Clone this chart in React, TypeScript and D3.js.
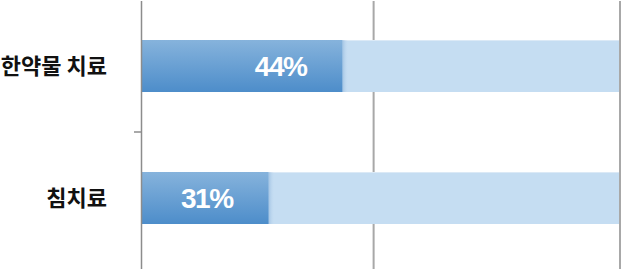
import React from "react";
import * as d3 from "d3";

const categories = ["한약물 치료", "침치료"];
const values = [44, 31];
const valueLabels = ["44%", "31%"];
const domainMin = 8.7;
const domainMax = 92.9;
const gridTicks = [49.5, 92.9];

const W = 622;
const H = 269;

export default function App() {
  const x = d3.scaleLinear().domain([domainMin, domainMax]).range([142, 620]);
  const y = d3.scaleBand<string>().domain(categories).range([0, 264]).paddingInner(0.606).paddingOuter(0.303);
  const bh = y.bandwidth();
  return (
    <svg width={W} height={H} style={{ position: "absolute", left: 0, top: 0, display: "block" }}>
      <defs>
        <linearGradient id="barGrad" x1="0" y1="0" x2="0" y2="1">
          <stop offset="0" stopColor="#86b3dc" />
          <stop offset="1" stopColor="#4d8dca" />
        </linearGradient>
        <linearGradient id="edgeShade" x1="0" y1="0" x2="1" y2="0">
          <stop offset="0" stopColor="#7fa9d4" stopOpacity="0.5" />
          <stop offset="1" stopColor="#c5ddf2" stopOpacity="0" />
        </linearGradient>
      </defs>
      {gridTicks.map((t, i) => (
        <line key={i} x1={x(t)} x2={x(t)} y1={1} y2={H} stroke="#a8a8a8" strokeWidth={2} />
      ))}
      {categories.map((c, i) => {
        const y0 = y(c)!;
        return (
          <g key={c}>
            <rect x={x(domainMin)} y={y0} width={x(domainMax) - x(domainMin) - 1} height={bh} fill="#c5ddf2" />
            <rect x={x(domainMin)} y={y0} width={x(domainMax) - x(domainMin) - 1} height={1} fill="#dbe9f6" />
            <rect x={x(values[i])} y={y0} width={6} height={bh} fill="url(#edgeShade)" />
            <rect x={x(domainMin)} y={y0} width={x(values[i]) - x(domainMin)} height={bh} fill="url(#barGrad)" />
            <text
              x={x(values[i]) - 36}
              y={y0 + bh / 2}
              dy="0.36em"
              textAnchor="end"
              fill="#ffffff"
              fontFamily="'Liberation Sans Narrow', 'Liberation Sans', Arial, sans-serif"
              fontWeight="bold"
              fontSize={28}
              letterSpacing={-1.5}
            >
              {valueLabels[i]}
            </text>
            <text
              x={107}
              y={y0 + bh / 2}
              dy="0.36em"
              textAnchor="end"
              fill="#111111"
              fontFamily="'Noto Sans CJK KR', sans-serif"
              fontWeight={700}
              fontSize={22}
            >
              {c}
            </text>
          </g>
        );
      })}
      <line x1={141.5} x2={141.5} y1={1} y2={H} stroke="#8c8c8c" strokeWidth={1.5} />
      <line x1={134} x2={142} y1={132} y2={132} stroke="#8c8c8c" strokeWidth={1.5} />
    </svg>
  );
}
